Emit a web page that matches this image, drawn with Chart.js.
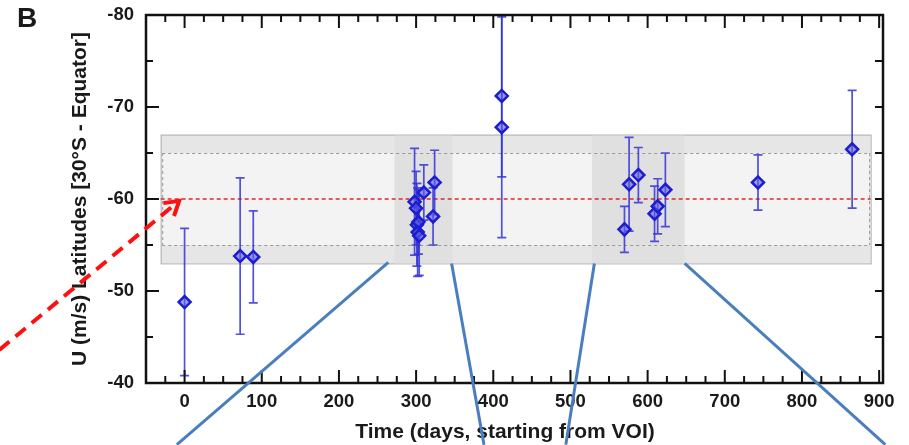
<!DOCTYPE html>
<html><head><meta charset="utf-8">
<script src="https://cdn.jsdelivr.net/npm/chart.js@4.4.1/dist/chart.umd.min.js"></script>
<style>html,body{margin:0;padding:0;background:#fff;}canvas{display:block;}</style>
</head><body>
<canvas id="c" width="909" height="445"></canvas>
<script>
// ---- data ----
const days   = [0, 72, 89, 298, 300, 301, 302, 303, 304, 310, 322, 324, 411, 411, 570, 576, 588, 609, 613, 623, 743, 865];
const speeds = [-48.8, -53.8, -53.7, -59.7, -59.0, -57.2, -56.4, -57.5, -56.0, -60.7, -58.1, -61.8, -71.2, -67.8, -56.7, -61.6, -62.6, -58.4, -59.2, -61.0, -61.8, -65.4];
const errors = [8.0, 8.5, 5.0, 5.8, 4.0, 4.5, 4.8, 3.5, 4.3, 3.0, 3.1, 3.5, 8.8, 12.0, 2.5, 5.1, 3.0, 3.0, 3.0, 4.0, 3.0, 6.4];
const xTickValues = [0, 100, 200, 300, 400, 500, 600, 700, 800, 900];
const yTickValues = [-80, -70, -60, -50, -40];
const meanSpeed = -60;
const innerBand = [-65, -55];
const outerBand = [-67, -53];
const outerDays = [-31, 889];
const innerDays = [-29, 887];
const focusWindows = [[272, 347], [528, 648]];
const zoomLines = [
  [[264, -53.1], [-10, -33.3]],
  [[346, -53.0], [388, -33.3]],
  [[531, -53.0], [494, -33.3]],
  [[648, -53.0], [908, -33.3]]
];
const arrowLine = [[-240, -43.6], [-7, -59.8]];
const panelLabel = 'B';
const xTitle = 'Time (days, starting from VOI)';
const yTitle = 'U (m/s) Latitudes [30°S - Equator]';

const FONT = '"Liberation Sans", Arial, Helvetica, sans-serif';

const points = days.map((d, i) => ({x: d, y: speeds[i], e: errors[i]}));

const decor = {
  id: 'decor',
  beforeDatasetsDraw(chart) {
    const ctx = chart.ctx, xs = chart.scales.x, ys = chart.scales.y;
    const X = v => xs.getPixelForValue(v), Y = v => ys.getPixelForValue(v);
    ctx.save();
    // outer grey band
    ctx.fillStyle = '#e6e6e6';
    ctx.fillRect(X(outerDays[0]), Y(outerBand[0]), X(outerDays[1]) - X(outerDays[0]), Y(outerBand[1]) - Y(outerBand[0]));
    ctx.strokeStyle = '#b0b0b0'; ctx.lineWidth = 1;
    ctx.strokeRect(X(outerDays[0]) + 0.5, Y(outerBand[0]) + 0.5, X(outerDays[1]) - X(outerDays[0]), Y(outerBand[1]) - Y(outerBand[0]));
    // inner light band
    ctx.fillStyle = '#f3f3f3';
    ctx.fillRect(X(innerDays[0]), Y(innerBand[0]), X(innerDays[1]) - X(innerDays[0]), Y(innerBand[1]) - Y(innerBand[0]));
    // focus windows
    ctx.fillStyle = '#e0e0e0';
    focusWindows.forEach(w => {
      ctx.fillRect(X(w[0]), Y(outerBand[0]) + 1, X(w[1]) - X(w[0]), Y(outerBand[1]) - Y(outerBand[0]) - 1);
    });
    // dashed inner edges
    ctx.strokeStyle = '#999'; ctx.lineWidth = 1; ctx.setLineDash([3, 3]);
    ctx.beginPath();
    innerBand.forEach(b => { ctx.moveTo(X(innerDays[0]), Y(b) + 0.5); ctx.lineTo(X(innerDays[1]), Y(b) + 0.5); });
    innerDays.forEach(d => { ctx.moveTo(X(d) + 0.5, Y(innerBand[0])); ctx.lineTo(X(d) + 0.5, Y(innerBand[1])); });
    ctx.stroke();
    // red mean line
    ctx.strokeStyle = '#e02828'; ctx.lineWidth = 1.6; ctx.setLineDash([4, 3]);
    ctx.beginPath(); ctx.moveTo(X(outerDays[0]), Y(meanSpeed)); ctx.lineTo(X(outerDays[1]), Y(meanSpeed)); ctx.stroke();
    ctx.setLineDash([]);
    // error bars
    ctx.strokeStyle = 'rgba(50,50,215,0.85)'; ctx.lineWidth = 1.7;
    points.forEach(p => {
      const x = X(p.x), y1 = Y(p.y - p.e), y2 = Y(p.y + p.e);
      ctx.beginPath();
      ctx.moveTo(x, y1); ctx.lineTo(x, y2);
      ctx.moveTo(x - 4.5, y1); ctx.lineTo(x + 4.5, y1);
      ctx.moveTo(x - 4.5, y2); ctx.lineTo(x + 4.5, y2);
      ctx.stroke();
    });
    ctx.restore();
  },
  afterDraw(chart) {
    const ctx = chart.ctx, xs = chart.scales.x, ys = chart.scales.y, a = chart.chartArea;
    const X = v => xs.getPixelForValue(v), Y = v => ys.getPixelForValue(v);
    ctx.save();
    // frame
    ctx.strokeStyle = '#111'; ctx.lineWidth = 2.5; ctx.setLineDash([]);
    ctx.strokeRect(a.left, a.top, a.right - a.left, a.bottom - a.top);
    // inward ticks
    ctx.lineWidth = 2;
    ctx.beginPath();
    for (let v = -25; v <= 900; v += 25) {
      const len = (v % 100 === 0) ? 13 : 7, x = X(v);
      ctx.moveTo(x, a.bottom); ctx.lineTo(x, a.bottom - len);
      ctx.moveTo(x, a.top); ctx.lineTo(x, a.top + len);
    }
    for (let v = -75; v < -40; v += 5) {
      const len = (v % 10 === 0) ? 13 : 7, y = Y(v);
      ctx.moveTo(a.left, y); ctx.lineTo(a.left + len, y);
      ctx.moveTo(a.right, y); ctx.lineTo(a.right - 8, y);
    }
    ctx.stroke();
    // texts
    ctx.fillStyle = '#1a1a1a';
    ctx.font = 'bold 28px ' + FONT;
    ctx.textAlign = 'center'; ctx.textBaseline = 'middle';
    ctx.fillText(panelLabel, 27, 19);
    ctx.font = 'bold 21px ' + FONT;
    ctx.fillText(xTitle, 505, 432);
    ctx.save();
    ctx.translate(80, 199); ctx.rotate(-Math.PI / 2);
    ctx.fillText(yTitle, 0, 0);
    ctx.restore();
    // red dashed arrow
    const ax1 = X(arrowLine[0][0]), ay1 = Y(arrowLine[0][1]), ax2 = X(arrowLine[1][0]), ay2 = Y(arrowLine[1][1]);
    ctx.strokeStyle = '#ff1010'; ctx.lineWidth = 4; ctx.setLineDash([13, 8]); ctx.lineCap = 'butt';
    ctx.beginPath(); ctx.moveTo(ax1, ay1); ctx.lineTo(ax2, ay2); ctx.stroke();
    ctx.setLineDash([]);
    const ang = Math.atan2(ay2 - ay1, ax2 - ax1);
    ctx.beginPath();
    ctx.moveTo(ax2 + 16 * Math.cos(ang + Math.PI - 0.55), ay2 + 16 * Math.sin(ang + Math.PI - 0.55));
    ctx.lineTo(ax2, ay2);
    ctx.lineTo(ax2 + 16 * Math.cos(ang + Math.PI + 0.55), ay2 + 16 * Math.sin(ang + Math.PI + 0.55));
    ctx.stroke();
    // blue zoom lines
    ctx.strokeStyle = '#4a7fbd'; ctx.lineWidth = 3;
    zoomLines.forEach(l => {
      ctx.beginPath(); ctx.moveTo(X(l[0][0]), Y(l[0][1])); ctx.lineTo(X(l[1][0]), Y(l[1][1])); ctx.stroke();
    });
    ctx.restore();
  }
};

const zeroPad = s => { s.paddingTop = 0; s.paddingBottom = 0; s.paddingLeft = 0; s.paddingRight = 0; };

new Chart(document.getElementById('c'), {
  type: 'scatter',
  data: {
    datasets: [{
      data: points,
      pointStyle: 'rectRot',
      pointRadius: 6,
      pointBorderWidth: 2.5,
      borderColor: '#1c1cd0',
      backgroundColor: 'rgba(95,95,225,0.6)',
      showLine: false
    }]
  },
  options: {
    responsive: false,
    animation: false,
    layout: {padding: {left: 0, right: 26, top: 15, bottom: 0}},
    plugins: {legend: {display: false}, tooltip: {enabled: false}},
    scales: {
      x: {
        type: 'linear', min: -50, max: 905,
        grid: {display: false, drawTicks: false},
        border: {display: false},
        afterBuildTicks: s => { s.ticks = xTickValues.map(v => ({value: v})); },
        afterFit: s => { s.height = 62; zeroPad(s); },
        ticks: {font: {family: FONT, size: 18.5, weight: 'bold'}, color: '#1a1a1a', padding: 8, maxRotation: 0, autoSkip: false}
      },
      y: {
        type: 'linear', min: -80, max: -40, reverse: true,
        grid: {display: false, drawTicks: false},
        border: {display: false},
        afterBuildTicks: s => { s.ticks = yTickValues.map(v => ({value: v})); },
        afterFit: s => { s.width = 146; zeroPad(s); },
        ticks: {font: {family: FONT, size: 18.5, weight: 'bold'}, color: '#1a1a1a', padding: 12}
      }
    }
  },
  plugins: [decor]
});
</script>
</body></html>
